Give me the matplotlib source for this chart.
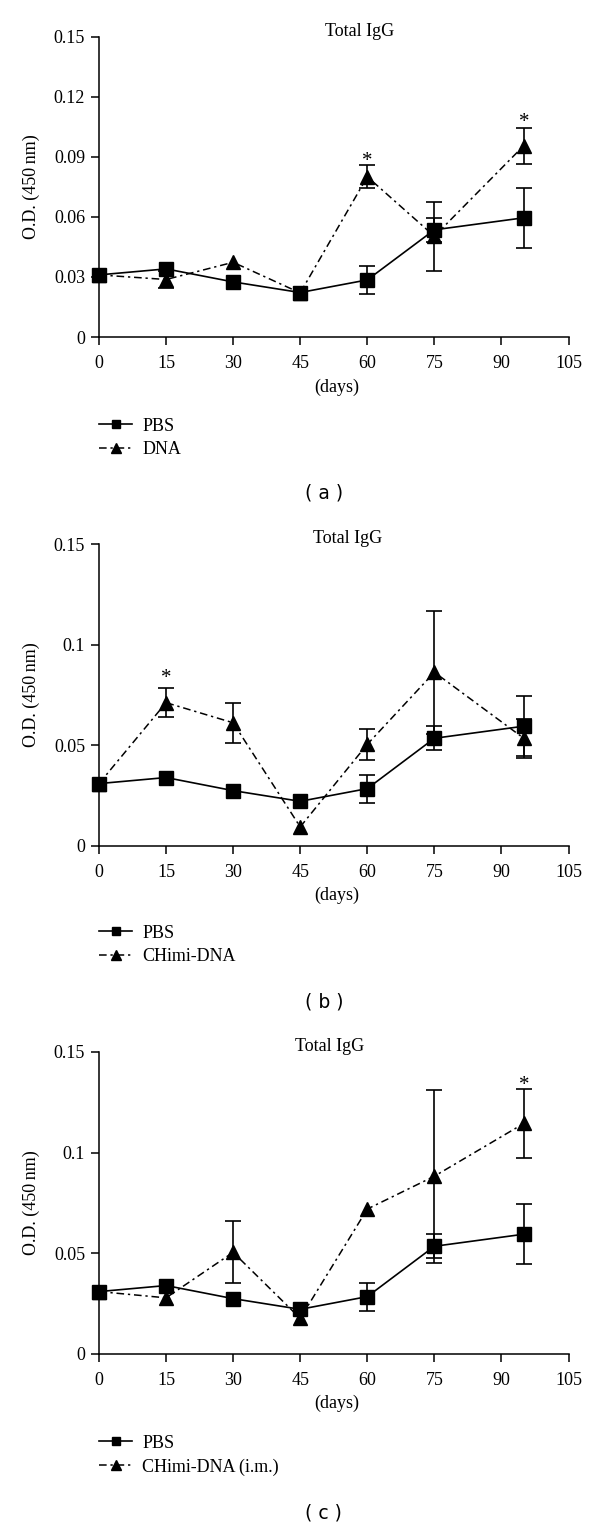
import numpy as np
import matplotlib
matplotlib.use('Agg')
import matplotlib.pyplot as plt

plt.rcParams['font.family'] = ['Liberation Serif', 'DejaVu Serif']
plt.rcParams['font.size'] = 13

days = np.array([0, 15, 30, 45, 60, 75, 95])

pbs = np.array([0.031, 0.034, 0.0275, 0.0222, 0.0285, 0.0535, 0.0595])
pbs_err = np.array([0, 0, 0, 0, 0.007, 0.006, 0.015])

dna = np.array([0.031, 0.0287, 0.0373, 0.022, 0.080, 0.0503, 0.0955])
dna_err = np.array([0, 0.004, 0, 0, 0.0058, 0.0172, 0.0089])

chimi = np.array([0.031, 0.0712, 0.0612, 0.0095, 0.0505, 0.0863, 0.0535])
chimi_err = np.array([0, 0.0072, 0.0098, 0, 0.0076, 0.0305, 0.0098])

chimi_im = np.array([0.031, 0.0279, 0.0505, 0.0177, 0.072, 0.0883, 0.1145])
chimi_im_err = np.array([0, 0, 0.0154, 0, 0, 0.043, 0.017])

x_ticks = [0, 15, 30, 45, 60, 75, 90, 105]
y_ticks_a = [0, 0.03, 0.06, 0.09, 0.12, 0.15]
y_labels_a = ['0', '0.03', '0.06', '0.09', '0.12', '0.15']
y_ticks_bc = [0, 0.05, 0.1, 0.15]
y_labels_bc = ['0', '0.05', '0.1', '0.15']

stars_a = ([60, 95], [0.0905, 0.110])
stars_b = ([15], [0.0858])
stars_c = ([95], [0.136])

W, H = 600, 1526
fig = plt.figure(figsize=(W / 100, H / 100), dpi=100)


def px_rect(left, top, right, bottom):
    return [left / W, 1 - bottom / H, (right - left) / W, (bottom - top) / H]


dashdot = (0, (5, 2.5, 1.5, 2.5))


def errbars(ax, y, err):
    m = err > 0
    ax.errorbar(days[m], y[m], yerr=err[m], fmt='none', ecolor='black',
                elinewidth=1.2, capsize=5.5, capthick=1.2, zorder=2)


def panel(rect, treat, treat_err, label, yticks, ylabels, stars,
          title_x, days_y, leg_y, tag, tag_px):
    ax = fig.add_axes(px_rect(*rect))
    errbars(ax, pbs, pbs_err)
    errbars(ax, treat, treat_err)
    ax.plot(days, pbs, color='black', lw=1.2, marker='s', ms=9.5,
            label='PBS', clip_on=False, zorder=3)
    ax.plot(days, treat, color='black', lw=1.1, ls=dashdot, marker='^',
            ms=10, label=label, clip_on=False, zorder=3)
    for sx, sy in zip(*stars):
        ax.annotate('*', (sx, sy), xytext=(0, -4), textcoords='offset points',
                    ha='center', va='center', fontsize=15)

    ax.set_xlim(0, 105)
    ax.set_ylim(0, 0.15)
    ax.set_xticks(x_ticks)
    ax.set_yticks(yticks)
    ax.set_yticklabels(ylabels)
    for s in ['top', 'right']:
        ax.spines[s].set_visible(False)
    for s in ['left', 'bottom']:
        ax.spines[s].set_linewidth(1.1)
    ax.tick_params(direction='out', length=6, width=1.1, pad=4)
    ax.tick_params(axis='x', pad=7)

    ax.text(title_x, 1 + 5 / 300, 'Total IgG', transform=ax.transAxes,
            ha='center', va='center')
    ax.text(0.507, days_y, '(days)', transform=ax.transAxes,
            ha='center', va='center')
    ax.text(-0.145, 0.5, 'O.D. (450\u2009nm)', transform=ax.transAxes,
            rotation=90, ha='center', va='center')
    ax.legend(loc='upper left', bbox_to_anchor=(0, leg_y), frameon=False,
              borderpad=0, borderaxespad=0, handlelength=1.85,
              handletextpad=0.55, labelspacing=0.38, markerscale=0.65)
    fig.text(tag_px[0] / W, 1 - tag_px[1] / H, tag, family='DejaVu Sans',
             fontsize=13.5, ha='center', va='center')
    return ax


panel((99, 36.5, 568.5, 337), dna, dna_err, 'DNA', y_ticks_a, y_labels_a,
      stars_a, 0.556, -0.166, -0.268, '( a )', (324, 493))
panel((99, 544, 568.5, 846), chimi, chimi_err, 'CHimi-DNA', y_ticks_bc,
      y_labels_bc, stars_b, 0.530, -0.162, -0.260, '( b )', (324, 1002))
panel((99, 1052, 568.5, 1354), chimi_im, chimi_im_err, 'CHimi-DNA (i.m.)',
      y_ticks_bc, y_labels_bc, stars_c, 0.492, -0.162, -0.2666, '( c )',
      (323, 1513))

fig.savefig('out.png', dpi=100)
